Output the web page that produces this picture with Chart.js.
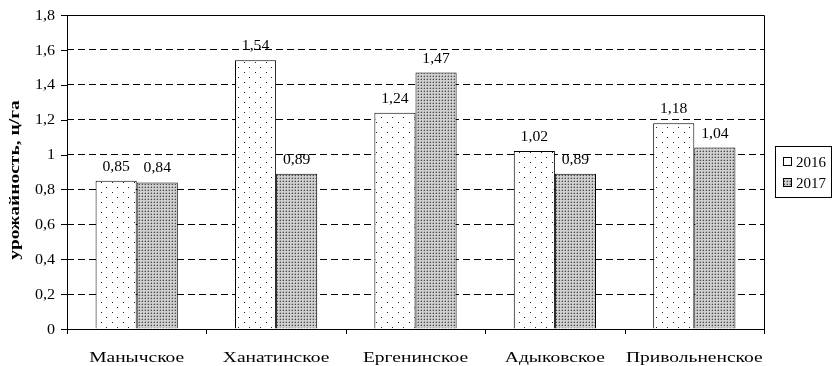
<!DOCTYPE html>
<html>
<head>
<meta charset="utf-8">
<script src="https://cdn.jsdelivr.net/npm/chart.js@4/dist/chart.umd.min.js"></script>
<style>
  html, body { margin: 0; padding: 0; background: #fff; }
  #wrap { width: 832px; height: 366px; }
</style>
</head>
<body>
<div id="wrap"><canvas id="c" width="832" height="366"></canvas></div>
<script>
const categories = ['Манычское', 'Ханатинское', 'Ергенинское', 'Адыковское', 'Привольненское'];
const seriesNames = ['2016', '2017'];
const values2016 = [0.85, 1.54, 1.24, 1.02, 1.18];
const values2017 = [0.84, 0.89, 1.47, 0.89, 1.04];
const yTicks = [0, 0.2, 0.4, 0.6, 0.8, 1, 1.2, 1.4, 1.6, 1.8];
const yTitle = 'урожайность, ц/га';

const FONT = '"Liberation Serif", "Times New Roman", serif';
const fmt = v => String(v).replace('.', ',');

// text drawn with a horizontal stretch along its reading direction
function wideText(ctx, text, x, y, sx, align, rot) {
  ctx.save();
  ctx.translate(x, y);
  if (rot) ctx.rotate(rot);
  ctx.scale(sx, 1);
  ctx.textAlign = align;
  ctx.fillText(text, 0, 0);
  ctx.restore();
}

// sparse staggered dots on white
function sparseDots() {
  const c = document.createElement('canvas');
  c.width = 11; c.height = 10;
  const g = c.getContext('2d');
  g.fillStyle = '#fff'; g.fillRect(0, 0, 11, 10);
  g.fillStyle = '#222';
  g.fillRect(2, 2, 1, 1);
  g.fillRect(7, 7, 1, 1);
  return g.createPattern(c, 'repeat');
}
// dense fine grey dot grid
function denseDots() {
  const c = document.createElement('canvas');
  c.width = 3; c.height = 3;
  const g = c.getContext('2d');
  g.fillStyle = '#cfcfcf'; g.fillRect(0, 0, 3, 3);
  g.fillStyle = '#4a4a4a';
  g.fillRect(1, 1, 1, 1);
  g.fillStyle = '#a0a0a0';
  g.fillRect(0, 1, 1, 1);
  g.fillRect(1, 0, 1, 1);
  return g.createPattern(c, 'repeat');
}
const pat2016 = sparseDots();
const pat2017 = denseDots();

// value labels above bars
const valueLabels = {
  id: 'valueLabels',
  afterDatasetsDraw(chart) {
    const ctx = chart.ctx;
    ctx.save();
    ctx.font = '14px ' + FONT;
    ctx.fillStyle = '#000';
    ctx.textBaseline = 'alphabetic';
    chart.data.datasets.forEach((ds, i) => {
      chart.getDatasetMeta(i).data.forEach((bar, j) => {
        wideText(ctx, fmt(ds.data[j]), bar.x, bar.y - 10, 1.12, 'center');
      });
    });
    ctx.restore();
  }
};

// plot frame, tick marks and axis texts
const frame = {
  id: 'frame',
  afterDraw(chart) {
    const { ctx, chartArea: a, scales } = chart;
    ctx.save();
    ctx.strokeStyle = '#000';
    ctx.lineWidth = 1;
    ctx.setLineDash([]);
    ctx.beginPath();
    ctx.rect(Math.round(a.left) + 0.5, Math.round(a.top) + 0.5,
             Math.round(a.right - a.left), Math.round(a.bottom - a.top));
    ctx.stroke();
    // y tick marks
    ctx.beginPath();
    yTicks.forEach(v => {
      const y = Math.round(scales.y.getPixelForValue(v)) + 0.5;
      ctx.moveTo(a.left - 6, y); ctx.lineTo(a.left, y);
    });
    // x tick marks at category boundaries
    const n = categories.length;
    const w = (a.right - a.left) / n;
    for (let i = 0; i <= n; i++) {
      const x = Math.round(a.left + i * w) + 0.5;
      ctx.moveTo(x, a.bottom); ctx.lineTo(x, a.bottom + 5);
    }
    ctx.stroke();

    ctx.fillStyle = '#000';
    // y tick labels
    ctx.font = '14px ' + FONT;
    ctx.textBaseline = 'middle';
    yTicks.forEach(v => {
      const y = scales.y.getPixelForValue(v);
      wideText(ctx, fmt(v), a.left - 12, y + 1, 1.15, 'right');
    });
    // category labels
    ctx.font = '15px ' + FONT;
    categories.forEach((c, i) => {
      wideText(ctx, c, scales.x.getPixelForValue(i), 358, 1.3, 'center');
    });
    // y axis title
    ctx.font = 'bold 15px ' + FONT;
    wideText(ctx, yTitle, 15, (a.top + a.bottom) / 2 + 8, 1.3, 'center', -Math.PI / 2);
    ctx.restore();
  }
};

// boxed legend on the right
const boxLegend = {
  id: 'boxLegend',
  afterDraw(chart) {
    const ctx = chart.ctx;
    const x0 = 775, y0 = 146, w = 56, h = 51;
    ctx.save();
    ctx.strokeStyle = '#000';
    ctx.lineWidth = 1;
    ctx.fillStyle = '#fff';
    ctx.fillRect(x0 + 0.5, y0 + 0.5, w, h);
    ctx.strokeRect(x0 + 0.5, y0 + 0.5, w, h);
    ctx.font = '15px ' + FONT;
    ctx.textBaseline = 'middle';
    seriesNames.forEach((name, i) => {
      const cy = y0 + 16 + i * 21;
      ctx.fillStyle = i === 0 ? '#fff' : pat2017;
      ctx.fillRect(x0 + 8.5, cy - 4.5, 8, 8);
      ctx.strokeRect(x0 + 8.5, cy - 4.5, 8, 8);
      ctx.fillStyle = '#000';
      ctx.textAlign = 'left';
      ctx.fillText(name, x0 + 21, cy + 1);
    });
    ctx.restore();
  }
};

new Chart(document.getElementById('c'), {
  type: 'bar',
  data: {
    labels: categories,
    datasets: [
      { label: seriesNames[0], data: values2016, backgroundColor: pat2016, borderColor: '#000', borderWidth: 1 },
      { label: seriesNames[1], data: values2017, backgroundColor: pat2017, borderColor: '#000', borderWidth: 1 }
    ]
  },
  options: {
    responsive: false,
    animation: false,
    events: [],
    layout: { padding: { top: 15, right: 68, bottom: 0, left: 0 } },
    plugins: { legend: { display: false }, tooltip: { enabled: false } },
    datasets: { bar: { categoryPercentage: 0.59, barPercentage: 1.0 } },
    scales: {
      x: {
        grid: { display: false, drawTicks: false },
        border: { display: false },
        ticks: { display: false },
        afterFit(s) { s.height = 37; }
      },
      y: {
        min: 0, max: 1.8,
        afterBuildTicks(s) { s.ticks = yTicks.map(v => ({ value: v })); },
        grid: { color: '#000', lineWidth: 1, drawTicks: false },
        border: { display: false, dash: [7, 4] },
        ticks: { display: false },
        afterFit(s) { s.width = 67; }
      }
    }
  },
  plugins: [valueLabels, frame, boxLegend]
});
</script>
</body>
</html>
